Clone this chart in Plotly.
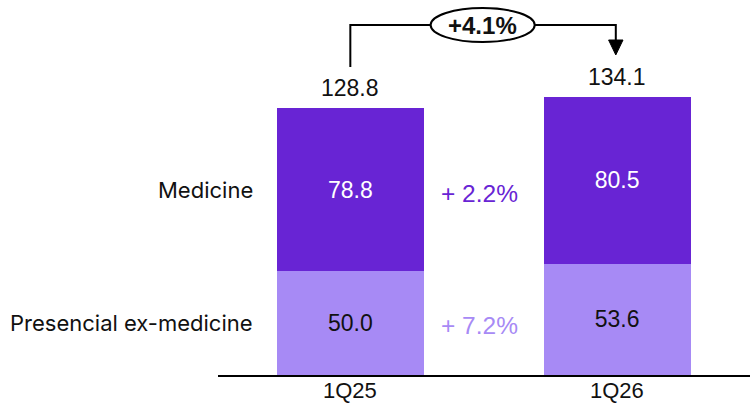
import plotly.graph_objects as go

# Revenue by segment, 1Q25 vs 1Q26
periods = ["1Q25", "1Q26"]
segments = ["Presencial ex-medicine", "Medicine"]
presencial = [50.0, 53.6]
medicine = [78.8, 80.5]

DARK = "#6824D4"
LIGHT = "#A78AF5"
NUM_FONT = "Liberation Sans, Arial, sans-serif"
LBL_FONT = "Inter, Noto Sans, sans-serif"

totals = [p + m for p, m in zip(presencial, medicine)]
g_med = (medicine[1] / medicine[0] - 1) * 100
g_pre = (presencial[1] / presencial[0] - 1) * 100
g_tot = (totals[1] / totals[0] - 1) * 100

xs = [0, 1]
BAR_W = 0.55

fig = go.Figure()
fig.add_trace(go.Bar(
    x=xs, y=presencial, width=BAR_W, marker=dict(color=LIGHT, line=dict(width=0)),
    text=[f"{v:.1f}" for v in presencial], textposition="inside",
    insidetextanchor="middle", textangle=0, constraintext="none",
    textfont=dict(family=NUM_FONT, size=23, color="#111111"),
    hoverinfo="skip", name=segments[0],
))
fig.add_trace(go.Bar(
    x=xs, y=medicine, width=BAR_W, marker=dict(color=DARK, line=dict(width=0)),
    text=[f"{v:.1f}" for v in medicine], textposition="inside",
    insidetextanchor="middle", textangle=0, constraintext="none",
    textfont=dict(family=NUM_FONT, size=23, color="white"),
    hoverinfo="skip", name=segments[1],
))

ann = []
# totals above the bars
for x, t in zip(xs, totals):
    ann.append(dict(x=x, y=t, xref="x", yref="y", text=f"{t:.1f}", showarrow=False,
                    yanchor="bottom", yshift=5,
                    font=dict(family=NUM_FONT, size=23, color="#111111")))

# period labels under the axis
for x, p in zip(xs, periods):
    ann.append(dict(x=x, y=0, xref="x", yref="paper", text=p, showarrow=False,
                    yanchor="top", yshift=-1,
                    font=dict(family=NUM_FONT, size=22, color="#111111")))

# segment names on the left
label_x = -0.358
ann.append(dict(x=label_x, y=presencial[0] + medicine[0] / 2, xref="x", yref="y",
                text=segments[1], showarrow=False, xanchor="right",
                font=dict(family=LBL_FONT, size=22, color="#111111")))
ann.append(dict(x=label_x, y=presencial[0] / 2, xref="x", yref="y",
                text=segments[0], showarrow=False, xanchor="right",
                font=dict(family=LBL_FONT, size=22, color="#111111")))

# segment growth between the bars
ann.append(dict(x=0.485, y=presencial[0] + medicine[0] / 2, xref="x", yref="y",
                text=f"+ {g_med:.1f}%", showarrow=False, yshift=-4,
                font=dict(family=NUM_FONT, size=24.5, color=DARK)))
ann.append(dict(x=0.485, y=presencial[0] / 2, xref="x", yref="y",
                text=f"+ {g_pre:.1f}%", showarrow=False, yshift=-2,
                font=dict(family=NUM_FONT, size=24.5, color=LIGHT)))

# total growth bracket
top_y = 168.8
left_bot = 148.6
tip_y = 154.4
head_y = 161.6
x0, x1 = 0.0, 0.995
shapes = [
    dict(type="path", xref="x", yref="y",
         path=f"M {x0},{left_bot} L {x0},{top_y} L {x1},{top_y} L {x1},{head_y}",
         line=dict(color="black", width=2)),
    dict(type="path", xref="x", yref="y",
         path=f"M {x1 - 0.027},{head_y} L {x1 + 0.027},{head_y} L {x1},{tip_y} Z",
         fillcolor="black", line=dict(color="black", width=1)),
    dict(type="circle", xref="x", yref="y", x0=0.301, x1=0.691, y0=160.6, y1=177.0,
         fillcolor="white", line=dict(color="black", width=2)),
]
ann.append(dict(x=0.496, y=top_y, xref="x", yref="y", text=f"<b>+{g_tot:.1f}%</b>",
                showarrow=False, font=dict(family=NUM_FONT, size=24, color="#111111")))

fig.update_layout(
    barmode="stack",
    width=755, height=418,
    margin=dict(l=218, r=5, t=0, b=43),
    paper_bgcolor="white", plot_bgcolor="white",
    showlegend=False,
    annotations=ann, shapes=shapes,
    xaxis=dict(range=[-0.496, 1.498], showticklabels=False,
               showgrid=False, zeroline=False, showline=True,
               linecolor="black", linewidth=1.5, ticks=""),
    yaxis=dict(range=[0, 180.9], visible=False, fixedrange=True),
)

fig.write_html("out.html")
